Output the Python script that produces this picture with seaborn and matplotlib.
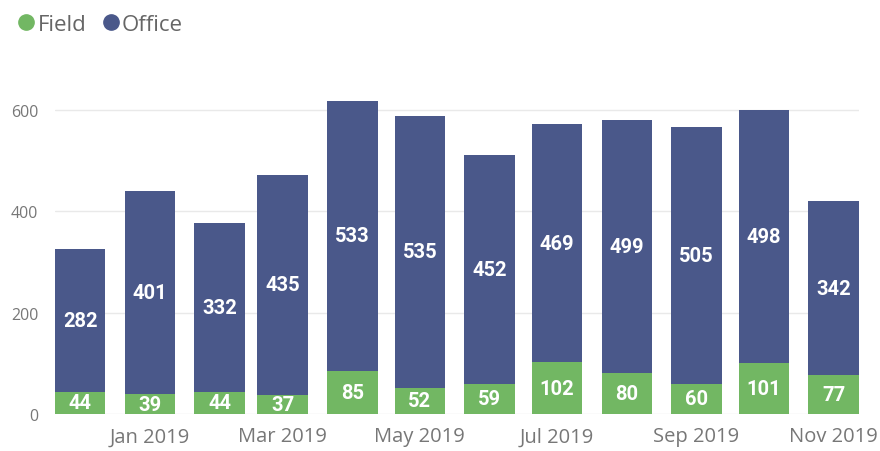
import pandas as pd
import numpy as np
import matplotlib
matplotlib.use("Agg")
import matplotlib.pyplot as plt
import matplotlib.dates as mdates
from matplotlib.lines import Line2D
import seaborn as sns

months = ["2018-12-01", "2019-01-01", "2019-02-01", "2019-03-01", "2019-04-01", "2019-05-01",
          "2019-06-01", "2019-07-01", "2019-08-01", "2019-09-01", "2019-10-01", "2019-11-01"]
field = [44, 39, 44, 37, 85, 52, 59, 102, 80, 60, 101, 77]
office = [282, 401, 332, 435, 533, 535, 452, 469, 499, 505, 498, 342]
tick_months = ["2019-01-01", "2019-03-01", "2019-05-01", "2019-07-01", "2019-09-01", "2019-11-01"]
tick_labels = ["Jan 2019", "Mar 2019", "May 2019", "Jul 2019", "Sep 2019", "Nov 2019"]

FIELD_C = "#72B763"
OFFICE_C = "#4A588A"
GREY = "#777777"

df = pd.DataFrame({"month": pd.to_datetime(months), "field": field, "office": office})
df["x"] = mdates.date2num(df["month"])
df["total"] = df["field"] + df["office"]

sns.set_style("white")
plt.rcParams["font.family"] = ["Open Sans", "DejaVu Sans"]

fig = plt.figure(figsize=(8.8, 4.52), dpi=100)
ax = fig.add_axes([0.0625, 0.082, 0.9135, 0.718])

sns.barplot(data=df, x="x", y="total", native_scale=True, orient="x",
            color=OFFICE_C, saturation=1, width=0.8, ax=ax, edgecolor="none")
sns.barplot(data=df, x="x", y="field", native_scale=True, orient="x",
            color=FIELD_C, saturation=1, width=0.8, ax=ax, edgecolor="none")

lab_font = dict(ha="center", va="center", color="white", fontsize=14.5,
                fontweight="bold", family=["Roboto", "DejaVu Sans"])
for _, r in df.iterrows():
    ax.text(r["x"], r["field"] / 2, f"{r['field']}", **lab_font)
    ax.text(r["x"], r["field"] + r["office"] / 2, f"{r['office']}", **lab_font)

half = 0.8 * 28 / 2
ax.set_xlim(df["x"].iloc[0] - half, df["x"].iloc[-1] + half)
ax.set_ylim(0, 640)
ax.set_yticks([0, 200, 400, 600])
ax.set_yticklabels(["0", "200", "400", "600"])
ax.set_xticks(mdates.date2num(pd.to_datetime(tick_months)))
ax.set_xticklabels(tick_labels)
ax.tick_params(axis="y", length=0, pad=12, labelsize=11.5, labelcolor=GREY)
ax.tick_params(axis="x", length=0, pad=9, labelsize=14.5, labelcolor=GREY)
ax.set_xlabel("")
ax.set_ylabel("")
ax.yaxis.grid(True, color="#E9E9E9", linewidth=1)
ax.set_axisbelow(True)
sns.despine(ax=ax, left=True, bottom=True)

handles = [Line2D([], [], marker="o", linestyle="", markersize=11, color=FIELD_C),
           Line2D([], [], marker="o", linestyle="", markersize=11, color=OFFICE_C)]
fig.legend(handles, ["Field", "Office"], loc="upper left", bbox_to_anchor=(-0.008, 1.012),
           ncol=2, frameon=False, fontsize=16, labelcolor="#666666",
           handletextpad=-0.1, columnspacing=0.5, handlelength=1.2)

fig.savefig("out.png", dpi=100)
